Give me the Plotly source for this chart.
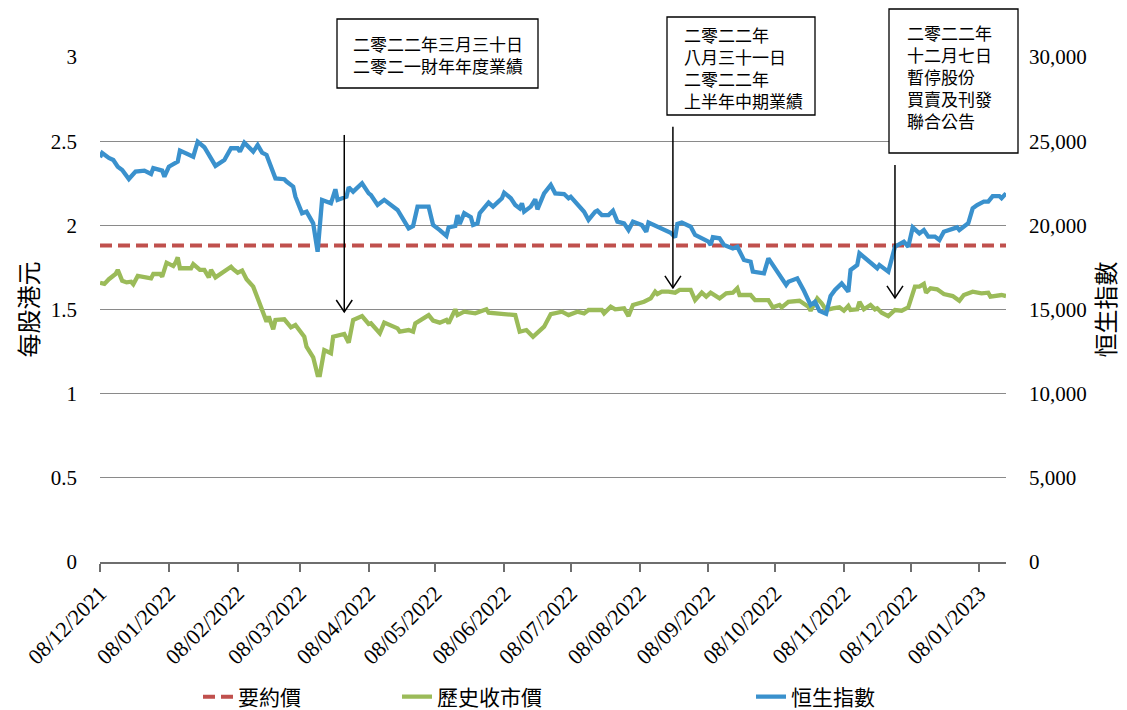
import plotly.graph_objects as go

# ---------------- data ----------------
hsi_dates = [
    "2021-12-08", "2021-12-09", "2021-12-12", "2021-12-14", "2021-12-16", "2021-12-18",
    "2021-12-21", "2021-12-24", "2021-12-28", "2021-12-31", "2022-01-01", "2022-01-05",
    "2022-01-06", "2022-01-08", "2022-01-12", "2022-01-13", "2022-01-19", "2022-01-21",
    "2022-01-24", "2022-01-29", "2022-02-02", "2022-02-05", "2022-02-08", "2022-02-09",
    "2022-02-11", "2022-02-15", "2022-02-17", "2022-02-19", "2022-02-21", "2022-02-25",
    "2022-03-01", "2022-03-02", "2022-03-05", "2022-03-06", "2022-03-09", "2022-03-11",
    "2022-03-14", "2022-03-16", "2022-03-18", "2022-03-22", "2022-03-24", "2022-03-25",
    "2022-03-29", "2022-03-30", "2022-04-01", "2022-04-05", "2022-04-08", "2022-04-09",
    "2022-04-12", "2022-04-15", "2022-04-21", "2022-04-23", "2022-04-26", "2022-04-28",
    "2022-04-30", "2022-05-05", "2022-05-07", "2022-05-10", "2022-05-13", "2022-05-14",
    "2022-05-17", "2022-05-18", "2022-05-19", "2022-05-21", "2022-05-24", "2022-05-25",
    "2022-05-27", "2022-05-28", "2022-06-01", "2022-06-03", "2022-06-07", "2022-06-08",
    "2022-06-11", "2022-06-13", "2022-06-15", "2022-06-16", "2022-06-17", "2022-06-20",
    "2022-06-22", "2022-06-23", "2022-06-26", "2022-06-29", "2022-07-01", "2022-07-05",
    "2022-07-07", "2022-07-08", "2022-07-14", "2022-07-16", "2022-07-19", "2022-07-20",
    "2022-07-22", "2022-07-25", "2022-07-27", "2022-07-29", "2022-08-01", "2022-08-03",
    "2022-08-05", "2022-08-09", "2022-08-11", "2022-08-12", "2022-08-16", "2022-08-17",
    "2022-08-22", "2022-08-24", "2022-08-25", "2022-08-27", "2022-08-31", "2022-09-02",
    "2022-09-08", "2022-09-09", "2022-09-10", "2022-09-13", "2022-09-15", "2022-09-19",
    "2022-09-21", "2022-09-24", "2022-09-27", "2022-09-28", "2022-10-03", "2022-10-05",
    "2022-10-07", "2022-10-10", "2022-10-13", "2022-10-14", "2022-10-18", "2022-10-21",
    "2022-10-24", "2022-10-26", "2022-10-28", "2022-10-31", "2022-11-02", "2022-11-04",
    "2022-11-07", "2022-11-10", "2022-11-11", "2022-11-14", "2022-11-15", "2022-11-23",
    "2022-11-24", "2022-11-28", "2022-12-01", "2022-12-05", "2022-12-07", "2022-12-09",
    "2022-12-12", "2022-12-14", "2022-12-16", "2022-12-19", "2022-12-21", "2022-12-23",
    "2022-12-27", "2022-12-29", "2022-12-30", "2023-01-03", "2023-01-05", "2023-01-07",
    "2023-01-10", "2023-01-12", "2023-01-14", "2023-01-17", "2023-01-18", "2023-01-20",
]
hsi_values = [
    24040, 24300, 24000, 23880, 23480, 23290,
    22750, 23190, 23250, 23050, 23400, 23250,
    22890, 23480, 23780, 24440, 24080, 24970,
    24640, 23530, 23880, 24580, 24580, 24380,
    24910, 24380, 24770, 24320, 24180, 22790,
    22740, 22600, 22300, 21700, 20720, 20810,
    20120, 18430, 21510, 21310, 22140, 21510,
    21700, 22260, 22000, 22500, 21900, 21800,
    21210, 21510, 20910, 20510, 19820, 19960,
    21110, 21110, 20020, 19720, 19370, 19880,
    19960, 20610, 20080, 20720, 20480, 20020,
    20120, 20720, 21350, 21110, 21610, 21940,
    21610, 21210, 21010, 21310, 20810, 21110,
    21550, 20950, 21900, 22400, 21900, 21860,
    21610, 21700, 20810, 20320, 20810, 20870,
    20610, 20610, 20870, 20220, 20120, 19720,
    20220, 20020, 19620, 20160, 19920, 19820,
    19560, 19290, 20080, 20160, 19920, 19430,
    19030, 18830, 19290, 19230, 18830, 18630,
    18730, 17940, 17840, 17250, 17150, 18040,
    17640, 17150, 16460, 16650, 16850, 16110,
    15270, 15460, 14920, 14750, 15800, 16160,
    16550, 16060, 17350, 17640, 18340, 17450,
    17640, 17250, 18730, 19030, 18730, 19880,
    19520, 19720, 19330, 19330, 19130, 19620,
    19820, 19880, 19720, 20120, 21010, 21210,
    21410, 21410, 21740, 21740, 21610, 21900,
]

price_dates = [
    "2021-12-08", "2021-12-10", "2021-12-12", "2021-12-15", "2021-12-16", "2021-12-18",
    "2021-12-20", "2021-12-22", "2021-12-23", "2021-12-25", "2021-12-31", "2022-01-01",
    "2022-01-04", "2022-01-05", "2022-01-07", "2022-01-10", "2022-01-11", "2022-01-12",
    "2022-01-13", "2022-01-18", "2022-01-19", "2022-01-22", "2022-01-24", "2022-01-26",
    "2022-01-27", "2022-01-29", "2022-02-05", "2022-02-06", "2022-02-08", "2022-02-10",
    "2022-02-12", "2022-02-15", "2022-02-17", "2022-02-19", "2022-02-21", "2022-02-22",
    "2022-02-24", "2022-02-25", "2022-03-01", "2022-03-04", "2022-03-06", "2022-03-10",
    "2022-03-11", "2022-03-14", "2022-03-16", "2022-03-17", "2022-03-19", "2022-03-22",
    "2022-03-23", "2022-03-28", "2022-03-30", "2022-04-01", "2022-04-05", "2022-04-08",
    "2022-04-09", "2022-04-13", "2022-04-15", "2022-04-21", "2022-04-22", "2022-04-26",
    "2022-04-28", "2022-04-29", "2022-05-05", "2022-05-07", "2022-05-10", "2022-05-13",
    "2022-05-14", "2022-05-17", "2022-05-18", "2022-05-21", "2022-05-26", "2022-05-31",
    "2022-06-01", "2022-06-08", "2022-06-12", "2022-06-13", "2022-06-15", "2022-06-18",
    "2022-06-21", "2022-06-26", "2022-06-29", "2022-07-04", "2022-07-07", "2022-07-11",
    "2022-07-14", "2022-07-16", "2022-07-22", "2022-07-23", "2022-07-26", "2022-07-28",
    "2022-08-01", "2022-08-03", "2022-08-05", "2022-08-10", "2022-08-13", "2022-08-15",
    "2022-08-16", "2022-08-18", "2022-08-21", "2022-08-24", "2022-08-26", "2022-08-31",
    "2022-09-02", "2022-09-05", "2022-09-07", "2022-09-09", "2022-09-13", "2022-09-16",
    "2022-09-19", "2022-09-21", "2022-09-22", "2022-09-27", "2022-09-29", "2022-10-05",
    "2022-10-07", "2022-10-10", "2022-10-11", "2022-10-14", "2022-10-19", "2022-10-23",
    "2022-10-24", "2022-10-27", "2022-10-29", "2022-10-31", "2022-11-03", "2022-11-06",
    "2022-11-08", "2022-11-10", "2022-11-11", "2022-11-14", "2022-11-15", "2022-11-17",
    "2022-11-20", "2022-11-22", "2022-11-23", "2022-11-25", "2022-11-28", "2022-12-01",
    "2022-12-04", "2022-12-06", "2022-12-07", "2022-12-10", "2022-12-12", "2022-12-14",
    "2022-12-15", "2022-12-17", "2022-12-20", "2022-12-23", "2022-12-27", "2022-12-30",
    "2023-01-01", "2023-01-05", "2023-01-09", "2023-01-12", "2023-01-13", "2023-01-18",
    "2023-01-20",
]
price_values = [
    1.659, 1.652, 1.680, 1.711, 1.735, 1.671,
    1.661, 1.665, 1.650, 1.699, 1.685, 1.711,
    1.711, 1.695, 1.778, 1.758, 1.778, 1.810,
    1.745, 1.745, 1.770, 1.735, 1.735, 1.691,
    1.735, 1.691, 1.754, 1.739, 1.719, 1.731,
    1.680, 1.636, 1.567, 1.493, 1.428, 1.458,
    1.382, 1.438, 1.442, 1.394, 1.408, 1.338,
    1.279, 1.216, 1.111, 1.111, 1.259, 1.240,
    1.338, 1.355, 1.303, 1.438, 1.461, 1.414,
    1.418, 1.359, 1.422, 1.388, 1.368, 1.378,
    1.368, 1.418, 1.467, 1.434, 1.422, 1.438,
    1.418, 1.501, 1.467, 1.487, 1.477, 1.501,
    1.481, 1.473, 1.473, 1.467, 1.368, 1.378,
    1.338, 1.398, 1.473, 1.487, 1.467, 1.487,
    1.477, 1.497, 1.497, 1.477, 1.517, 1.501,
    1.507, 1.461, 1.527, 1.546, 1.566, 1.606,
    1.592, 1.606, 1.606, 1.600, 1.616, 1.616,
    1.556, 1.600, 1.576, 1.600, 1.566, 1.596,
    1.600, 1.626, 1.586, 1.586, 1.556, 1.556,
    1.513, 1.527, 1.513, 1.546, 1.552, 1.517,
    1.493, 1.566, 1.537, 1.497, 1.507, 1.513,
    1.493, 1.521, 1.497, 1.501, 1.546, 1.501,
    1.527, 1.501, 1.507, 1.481, 1.461, 1.497,
    1.493, 1.507, 1.513, 1.636, 1.636, 1.652,
    1.600, 1.626, 1.620, 1.592, 1.580, 1.552,
    1.586, 1.606, 1.596, 1.600, 1.576, 1.586,
    1.580,
]

offer_price = 1.88

tick_dates = [
    "2021-12-08", "2022-01-08", "2022-02-08", "2022-03-08", "2022-04-08", "2022-05-08",
    "2022-06-08", "2022-07-08", "2022-08-08", "2022-09-08", "2022-10-08", "2022-11-08",
    "2022-12-08", "2023-01-08",
]
tick_labels = [
    "08/12/2021", "08/01/2022", "08/02/2022", "08/03/2022", "08/04/2022", "08/05/2022",
    "08/06/2022", "08/07/2022", "08/08/2022", "08/09/2022", "08/10/2022", "08/11/2022",
    "08/12/2022", "08/01/2023",
]
left_ticks = [0, 0.5, 1, 1.5, 2, 2.5, 3]
left_labels = ["0", "0.5", "1", "1.5", "2", "2.5", "3"]
right_ticks = [0, 5000, 10000, 15000, 20000, 25000, 30000]
right_labels = ["0", "5,000", "10,000", "15,000", "20,000", "25,000", "30,000"]

# event call-outs
event_texts = [
    "二零二二年三月三十日<br>二零二一財年年度業績",
    "二零二二年<br>八月三十一日<br>二零二二年<br>上半年中期業績",
    "二零二二年<br>十二月七日<br>暫停股份<br>買賣及刊發<br>聯合公告",
]
arrow_dates = ["2022-03-28", "2022-08-23", "2022-12-01"]
arrow_tails = [2.537, 2.585, 2.359]
arrow_heads = [1.485, 1.628, 1.569]

# ---------------- figure ----------------
SERIF = "Liberation Serif"
CJK = "Noto Sans CJK TC"
GRID = "#8a8a8a"

fig = go.Figure()
fig.add_trace(go.Scatter(
    x=[price_dates[0], price_dates[-1]], y=[offer_price, offer_price],
    mode="lines", name="要約價", legend="legend", showlegend=True,
    line=dict(color="#C0504D", width=4, dash="12px,6px"),
))
fig.add_trace(go.Scatter(
    x=price_dates, y=price_values, mode="lines", name="歷史收市價", legend="legend2",
    showlegend=True, line=dict(color="#9BBB59", width=4.3),
))
fig.add_trace(go.Scatter(
    x=hsi_dates, y=hsi_values, mode="lines", name="恒生指數", legend="legend3",
    showlegend=True, yaxis="y2", line=dict(color="#3A91CD", width=4.3),
))

# arrows
for d, t, h in zip(arrow_dates, arrow_tails, arrow_heads):
    fig.add_shape(type="line", xref="x", yref="y", x0=d, x1=d, y0=t, y1=h,
                  line=dict(color="black", width=1.5), layer="above")
    fig.add_shape(type="path", xref="x", yref="y", xsizemode="pixel", ysizemode="pixel",
                  xanchor=d, yanchor=h, path="M-8,12 L0,0 L8,12",
                  line=dict(color="black", width=1.5), layer="above")

# boxes (pixel geometry of the call-out frames)
box_x = [337, 667, 889]
box_y = [19, 17, 9]
box_w = [201, 148, 129]
box_h = [69, 98, 144]
text_x = [438, 683, 906]
text_y = [54, 67, 76]
text_anchor = ["center", "left", "left"]


def px_x(p):
    return (p - 100) / 906


def px_y(p):
    return (562 - p) / 505


for bx, by, bw, bh in zip(box_x, box_y, box_w, box_h):
    fig.add_shape(type="rect", xref="paper", yref="paper",
                  x0=px_x(bx), x1=px_x(bx + bw), y0=px_y(by + bh), y1=px_y(by),
                  fillcolor="white", line=dict(color="black", width=1.3), layer="above")

for txt, tx, ty, anc in zip(event_texts, text_x, text_y, text_anchor):
    fig.add_annotation(
        text=txt, xref="paper", yref="paper", x=px_x(tx), y=px_y(ty),
        xanchor=anc, yanchor="middle", showarrow=False, align=anc,
        borderpad=0, font=dict(family=CJK, size=17, color="black"),
    )

legend_common = dict(xref="container", yref="container",
                     xanchor="left", yanchor="middle", orientation="h",
                     font=dict(family=CJK, size=21, color="black"),
                     bgcolor="rgba(0,0,0,0)")
leg_y = (710 - 697) / 710

fig.update_layout(
    width=1127, height=710,
    margin=dict(l=100, r=121, t=57, b=148, autoexpand=False),
    paper_bgcolor="white", plot_bgcolor="white",
    showlegend=True,
    font=dict(family=SERIF, color="black"),
    xaxis=dict(
        type="date", range=["2021-12-08", "2023-01-20"], automargin=False,
        tickvals=tick_dates, ticktext=tick_labels, tickangle=-45,
        tickfont=dict(family=SERIF, size=22, color="black"),
        showgrid=False, zeroline=False,
        showline=True, linecolor="#6e6e6e", linewidth=1.5,
        ticks="outside", ticklen=8, tickcolor="#6e6e6e", tickwidth=1.5,
    ),
    yaxis=dict(
        range=[0, 3], tickvals=left_ticks, ticktext=left_labels, automargin=False,
        tickfont=dict(family=SERIF, size=21, color="black"),
        showgrid=True, gridcolor=GRID, gridwidth=1.2, zeroline=False,
        showline=False, ticks="", ticklabelstandoff=22,
        title=dict(text="每股港元", font=dict(family=CJK, size=24, color="black"), standoff=5),
    ),
    yaxis2=dict(
        range=[0, 30000], overlaying="y", side="right", automargin=False,
        tickvals=right_ticks, ticktext=right_labels,
        tickfont=dict(family=SERIF, size=21, color="black"),
        showgrid=False, zeroline=False, showline=False, ticks="", ticklabelstandoff=22,
        title=dict(text="恒生指數", font=dict(family=CJK, size=24, color="black"), standoff=10),
    ),
    legend=dict(x=198 / 1127, y=leg_y, **legend_common),
    legend2=dict(x=397 / 1127, y=leg_y, **legend_common),
    legend3=dict(x=751 / 1127, y=leg_y, **legend_common),
)

fig.write_html("out.html")
